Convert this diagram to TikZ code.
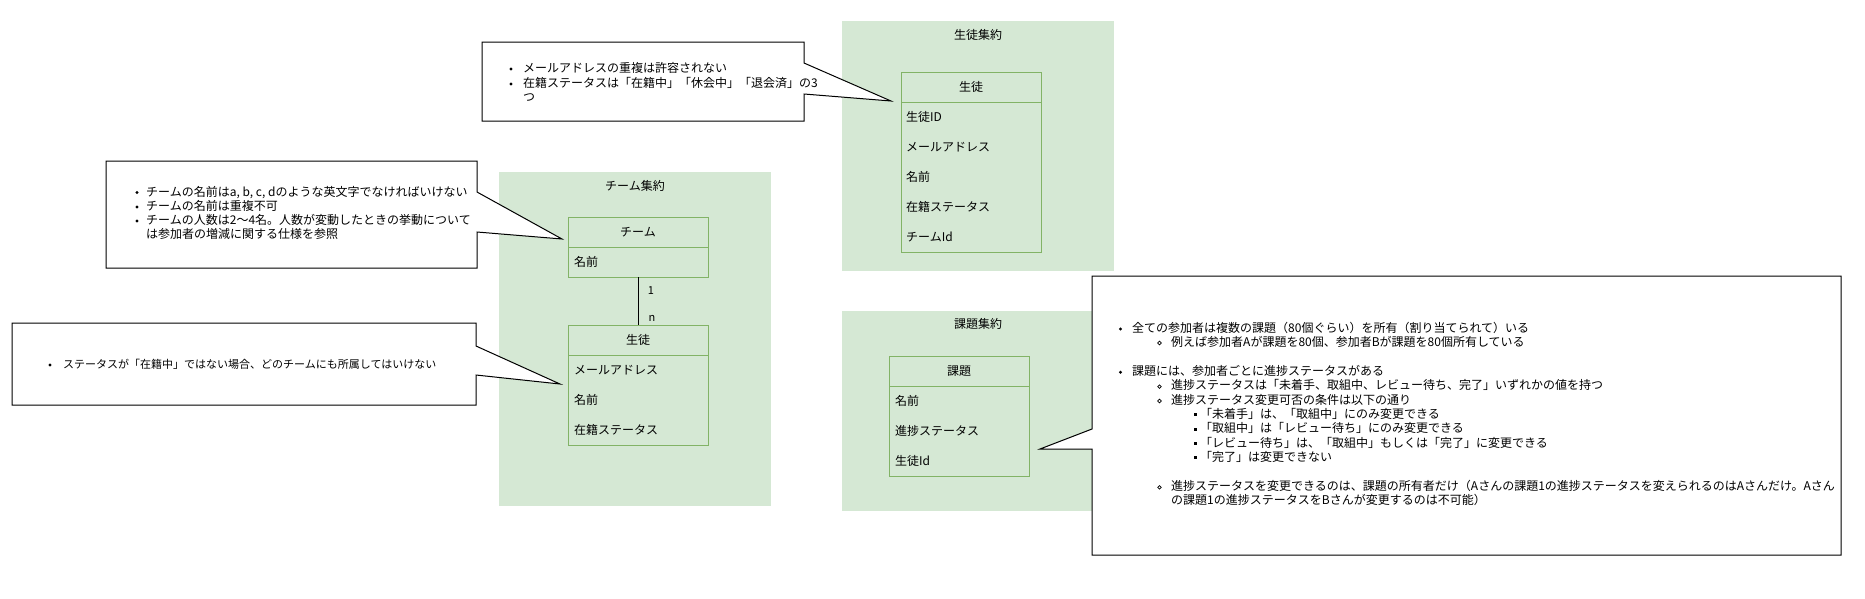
\documentclass[tikz,border=0pt]{standalone}
\usepackage{fontspec}
\setmainfont{Noto Sans CJK JP}
\definecolor{grpgreen}{HTML}{D5E8D4}
\definecolor{entgreen}{HTML}{82B366}
\tikzset{
  grp/.style={fill=grpgreen, draw=none, inner sep=0pt, outer sep=0pt, anchor=north west},
  enthead/.style={draw=entgreen, line width=1pt, inner sep=0pt, outer sep=0pt, anchor=north west, minimum width=140pt, minimum height=30pt, font=\fontsize{12pt}{14.4pt}\selectfont},
  entbody/.style={draw=entgreen, line width=1pt, inner sep=0pt, outer sep=0pt, anchor=north west, minimum width=140pt},
  txt/.style={font=\fontsize{12pt}{14.4pt}\selectfont, inner sep=0pt, anchor=base west},
  smalltxt/.style={font=\fontsize{11pt}{13.2pt}\selectfont, inner sep=0pt, anchor=base west},
  ctxt/.style={font=\fontsize{12pt}{14.4pt}\selectfont, inner sep=0pt, anchor=base},
  callout/.style={draw=black, fill=white, line width=1pt, line join=miter},
  ringb/.style={draw=black, line width=0.7pt},
}
\begin{document}
\begin{tikzpicture}[x=1pt,y=-1pt]
\useasboundingbox (0,0) rectangle (1865,598);
% groups
\node[grp, minimum width=272pt, minimum height=250pt] (stugrp) at (842,21) {};
\node[grp, minimum width=272pt, minimum height=334pt] (teamgrp) at (499,172) {};
\node[grp, minimum width=272pt, minimum height=200pt] (kadaigrp) at (842,311) {};
\node[ctxt] (stugrpt) at (978,39) {生徒集約};
\node[ctxt] (teamgrpt) at (635,190) {チーム集約};
\node[ctxt] (kadaigrpt) at (978,328) {課題集約};
% entity: student (main)
\node[entbody, minimum height=150pt] (stub) at (901,102) {};
\node[enthead] (stuh) at (901,72) {生徒};
\node[txt] (stur1) at (906,121.5) {生徒ID};
\node[txt] (stur2) at (906,151.5) {メールアドレス};
\node[txt] (stur3) at (906,181.5) {名前};
\node[txt] (stur4) at (906,211.5) {在籍ステータス};
\node[txt] (stur5) at (906,241.5) {チームId};
% entity: team
\node[entbody, minimum height=30pt] (teamb) at (568,247) {};
\node[enthead] (teamh) at (568,217) {チーム};
\node[txt] (teamr1) at (574,266.5) {名前};
% entity: student (team aggregate)
\node[entbody, minimum height=90pt] (stutb) at (568,355) {};
\node[enthead] (stuth) at (568,325) {生徒};
\node[txt] (stutr1) at (574,374.5) {メールアドレス};
\node[txt] (stutr2) at (574,404.5) {名前};
\node[txt] (stutr3) at (574,434.5) {在籍ステータス};
% entity: task
\node[entbody, minimum height=90pt] (kadaib) at (889,386) {};
\node[enthead] (kadaih) at (889,356) {課題};
\node[txt] (kadair1) at (895,405.5) {名前};
\node[txt] (kadair2) at (895,435.5) {進捗ステータス};
\node[txt] (kadair3) at (895,465.5) {生徒Id};
% relation
\draw[line width=1pt] (teamb.south) -- (stuth.north);
\node[font=\fontsize{11pt}{13pt}\selectfont, inner sep=0pt] (lblone) at (651,291) {1};
\node[font=\fontsize{11pt}{13pt}\selectfont, inner sep=0pt] (lblmany) at (652,318) {n};
% callout 1
\draw[callout] (482,42) -- (804,42) -- (804,63) -- (891,101) -- (804,94) -- (804,121) -- (482,121) -- cycle;
\fill (511,69) circle[radius=1.7pt];
\fill (511,84) circle[radius=1.7pt];
\node[txt] (c1a) at (523,72.5) {メールアドレスの重複は許容されない};
\node[txt] (c1b) at (523,87) {在籍ステータスは「在籍中」「休会中」「退会済」の3};
\node[txt] (c1c) at (523,101.5) {つ};
% callout 2
\draw[callout] (106,161) -- (477,161) -- (477,192) -- (562,239) -- (477,232) -- (477,268) -- (106,268) -- cycle;
\fill (137,192.5) circle[radius=1.7pt];
\fill (137,207) circle[radius=1.7pt];
\fill (137,221) circle[radius=1.7pt];
\node[txt] (c2a) at (146,196) {チームの名前はa, b, c, dのような英文字でなければいけない};
\node[txt] (c2b) at (146,210.5) {チームの名前は重複不可};
\node[txt] (c2c) at (146,224.5) {チームの人数は2〜4名。人数が変動したときの挙動について};
\node[txt] (c2d) at (146,238.5) {は参加者の増減に関する仕様を参照};
% callout 3
\draw[callout] (12,323) -- (476,323) -- (476,346) -- (560,384) -- (476,375) -- (476,405) -- (12,405) -- cycle;
\fill (50,365) circle[radius=1.7pt];
\node[smalltxt] (c3a) at (63,368.2) {ステータスが「在籍中」ではない場合、どのチームにも所属してはいけない};
% callout 4
\draw[callout] (1092,276) -- (1841,276) -- (1841,555) -- (1092,555) -- (1092,449) -- (1040,449) -- (1092,429) -- cycle;
\fill (1120.5,329) circle[radius=1.6pt];
\draw[ringb] (1159.5,343) circle[radius=1.8pt];
\fill (1120.5,372.2) circle[radius=1.6pt];
\draw[ringb] (1159.5,386.6) circle[radius=1.8pt];
\draw[ringb] (1159.5,401) circle[radius=1.8pt];
\fill (1193.6,413.2) rectangle (1196.6,416.2);
\fill (1193.6,427.6) rectangle (1196.6,430.6);
\fill (1193.6,442) rectangle (1196.6,445);
\fill (1193.6,456.4) rectangle (1196.6,459.4);
\draw[ringb] (1159.5,487.4) circle[radius=1.8pt];
\node[txt] (c4a) at (1132,332) {全ての参加者は複数の課題（80個ぐらい）を所有（割り当てられて）いる};
\node[txt] (c4b) at (1171,346.4) {例えば参加者Aが課題を80個、参加者Bが課題を80個所有している};
\node[txt] (c4c) at (1132,375.2) {課題には、参加者ごとに進捗ステータスがある};
\node[txt] (c4d) at (1171,389.6) {進捗ステータスは「未着手、取組中、レビュー待ち、完了」いずれかの値を持つ};
\node[txt] (c4e) at (1171,404) {進捗ステータス変更可否の条件は以下の通り};
\node[txt] (c4f) at (1200,418.4) {「未着手」は、「取組中」にのみ変更できる};
\node[txt] (c4g) at (1200,432.8) {「取組中」は「レビュー待ち」にのみ変更できる};
\node[txt] (c4h) at (1200,447.2) {「レビュー待ち」は、「取組中」もしくは「完了」に変更できる};
\node[txt] (c4i) at (1200,461.6) {「完了」は変更できない};
\node[txt] (c4j) at (1171,490.4) {進捗ステータスを変更できるのは、課題の所有者だけ（Aさんの課題1の進捗ステータスを変えられるのはAさんだけ。Aさん};
\node[txt] (c4k) at (1171,504.8) {の課題1の進捗ステータスをBさんが変更するのは不可能）};
\end{tikzpicture}
\end{document}
